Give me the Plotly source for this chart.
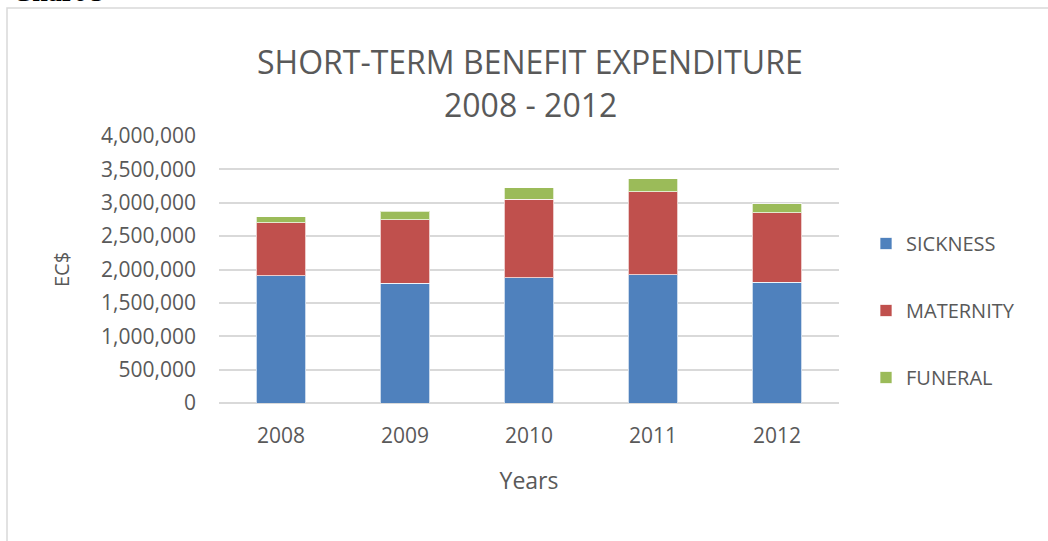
import plotly.graph_objects as go

# Short-term benefit expenditure (EC$)
years = ["2008", "2009", "2010", "2011", "2012"]
sickness = [1907000, 1793000, 1877000, 1922000, 1808000]
maternity = [794000, 953000, 1179000, 1244000, 1043000]
funeral = [90000, 126000, 170000, 190000, 135000]

y_ticks = [0, 500000, 1000000, 1500000, 2000000, 2500000, 3000000, 3500000, 4000000]

FONT = "Open Sans"
GREY = "#595959"

W, H = 1048, 541
L, R, T, B = 219, 209, 136, 138
pw, ph = W - L - R, H - T - B


def px_x(p):
    return (p - L) / pw


def px_y(p):
    return (H - B - p) / ph


fig = go.Figure()
series = [("SICKNESS", sickness, "#4f81bd"),
          ("MATERNITY", maternity, "#c0504d"),
          ("FUNERAL", funeral, "#9bbb59")]
for name, vals, color in series:
    fig.add_trace(go.Bar(
        x=years, y=vals, name=name, legendgroup=name,
        marker=dict(color=color, line=dict(color="rgba(255,255,255,0.7)", width=1)),
        width=0.4,
    ))

# outer chart frame
fig.add_shape(type="rect", xref="paper", yref="paper",
              x0=px_x(7), x1=px_x(1060), y0=px_y(560), y1=px_y(8),
              line=dict(color="#d9d9d9", width=1.5), layer="below")

# caption above the frame, mostly cut off like in the source
fig.add_annotation(text="<b>Chart 5</b>", xref="paper", yref="paper",
                   x=px_x(10), y=px_y(9), xanchor="left", yanchor="bottom",
                   showarrow=False, font=dict(family="Liberation Serif", size=28, color="black"))

# two-line chart title (wider line gap than plotly's default title)
for txt, yc in [("SHORT-TERM BENEFIT EXPENDITURE", 61), ("2008 - 2012", 105)]:
    fig.add_annotation(text=txt, xref="paper", yref="paper",
                       x=px_x(530), y=px_y(yc), xanchor="center", yanchor="middle",
                       showarrow=False, font=dict(family=FONT, size=32, color=GREY))

fig.update_layout(
    width=W, height=H,
    margin=dict(l=L, r=R, t=T, b=B),
    barmode="stack",
    paper_bgcolor="white", plot_bgcolor="white",
    font=dict(family=FONT, color=GREY, size=21),
    legend=dict(x=px_x(866), y=px_y(224), xanchor="left", yanchor="top",
                traceorder="grouped", tracegroupgap=38,
                font=dict(size=20, color=GREY, family=FONT),
                itemwidth=30),
    xaxis=dict(showgrid=False, showline=False, ticks="",
               tickfont=dict(size=21), ticklabelstandoff=18,
               title=dict(text="Years", standoff=24, font=dict(size=23))),
    yaxis=dict(range=[0, 4000000], tickvals=y_ticks, tickformat=",",
               showgrid=True, gridcolor="#d9d9d9", gridwidth=1.5,
               zeroline=True, zerolinecolor="#d9d9d9", zerolinewidth=1.5,
               showline=False, ticks="", ticklabelstandoff=22,
               tickfont=dict(size=21),
               title=dict(text="EC$", standoff=26, font=dict(size=20))),
    showlegend=True,
)

fig.write_html("out.html", config={"displayModeBar": False},
               post_script="document.body.style.margin='0px';")
